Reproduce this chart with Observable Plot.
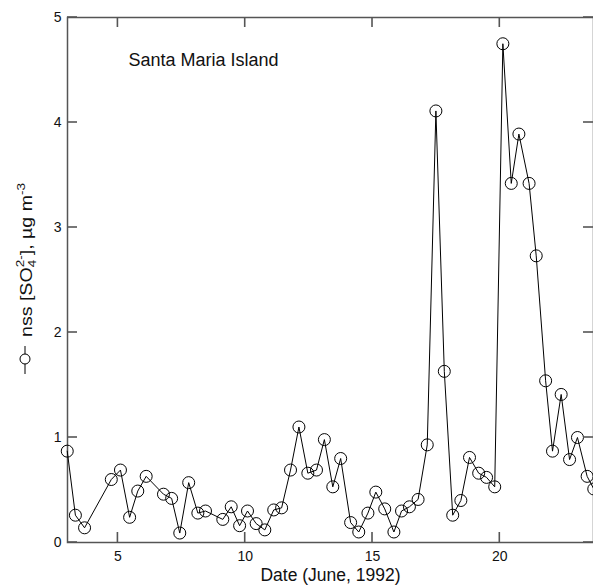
<!DOCTYPE html>
<html><head><meta charset="utf-8">
<script src="https://cdn.jsdelivr.net/npm/d3@7"></script>
<script src="https://cdn.jsdelivr.net/npm/@observablehq/plot@0.6"></script>
<style>
body{margin:0;background:#fff;}
#chart svg{font-family:"Liberation Sans", Arial, Helvetica, sans-serif;}
</style>
</head><body><div id="chart"></div>
<script>
const days = [3.01,3.33,3.69,4.74,5.10,5.46,5.78,6.11,6.79,7.11,
  7.43,7.78,8.14,8.44,9.12,9.45,9.78,10.09,10.43,10.77,
  11.12,11.43,11.78,12.11,12.46,12.80,13.11,13.44,13.75,14.14,
  14.46,14.82,15.13,15.48,15.84,16.14,16.45,16.79,17.15,17.49,
  17.82,18.15,18.47,18.81,19.17,19.48,19.80,20.12,20.45,20.75,
  21.15,21.43,21.80,22.07,22.41,22.74,23.05,23.43,23.69];
const nss = [0.87,0.26,0.14,0.60,0.69,0.24,0.49,0.63,0.46,0.42,
  0.09,0.57,0.28,0.30,0.22,0.34,0.16,0.30,0.18,0.12,
  0.31,0.33,0.69,1.10,0.66,0.69,0.98,0.53,0.80,0.19,
  0.10,0.28,0.48,0.32,0.10,0.30,0.34,0.41,0.93,4.11,
  1.63,0.26,0.40,0.81,0.66,0.62,0.53,4.75,3.42,3.89,
  3.42,2.73,1.54,0.87,1.41,0.79,1.00,0.63,0.51];
const xTicks = [5, 10, 15, 20];
const yTicks = [0, 1, 2, 3, 4, 5];
const titleText = "Santa Maria Island";
const xLabel = "Date (June, 1992)";

const data = days.map((d, i) => ({day: d, nss: nss[i]}));
const axisColor = "#555";
const tickLen = 10;

const chart = Plot.plot({
  width: 593, height: 585,
  marginLeft: 67, marginRight: 0, marginTop: 17, marginBottom: 43,
  style: {fontFamily: '"Liberation Sans", Arial, sans-serif', fontSize: "14px", background: "white", overflow: "visible"},
  x: {domain: [3.02, 23.68]},
  y: {domain: [0, 5]},
  marks: [
    Plot.frame({stroke: axisColor, strokeWidth: 1.5}),
    Plot.axisX({anchor: "bottom", ticks: xTicks, tickSize: 0, tickPadding: 9, label: null, fontSize: 14, fill: "#111"}),
    Plot.axisY({anchor: "left", ticks: yTicks, tickSize: 0, tickPadding: 6, tickFormat: d => String(d), label: null, fontSize: 14, fill: "#111"}),
    Plot.line(data, {x: "day", y: "nss", stroke: "black", strokeWidth: 1}),
    Plot.dot(data, {x: "day", y: "nss", r: 6, stroke: "black", strokeWidth: 1, fill: "none"}),
    Plot.text([titleText], {frameAnchor: "top-left", dx: 61, dy: 43, textAnchor: "start", lineAnchor: "middle", fontSize: 18, fill: "#111"}),
    Plot.text([xLabel], {frameAnchor: "bottom", dy: 33, lineAnchor: "middle", fontSize: 17.5, fill: "#111"})
  ]
});
document.getElementById("chart").appendChild(chart);

const svg = d3.select(chart);
// inward ticks on all four sides, positioned through Plot's own scales
const sx = chart.scale("x"), sy = chart.scale("y");
const xr = sx.range, yr = sy.range;
const xLeft = Math.min(xr[0], xr[1]), xRight = Math.max(xr[0], xr[1]);
const yBottom = Math.max(yr[0], yr[1]), yTop = Math.min(yr[0], yr[1]);
const tg = svg.append("g").attr("stroke", axisColor).attr("stroke-width", 1.6).attr("fill", "none");
xTicks.forEach(v => {
  const px = sx.apply(v);
  tg.append("path").attr("d", `M${px},${yBottom}V${yBottom - tickLen}`);
  tg.append("path").attr("d", `M${px},${yTop}V${yTop + tickLen}`);
});
yTicks.forEach(v => {
  const py = sy.apply(v);
  tg.append("path").attr("d", `M${xLeft},${py}H${xLeft + tickLen}`);
  tg.append("path").attr("d", `M${xRight},${py}H${xRight - tickLen}`);
});

// rotated y-axis label with sub/superscripts and legend symbol
const g = svg.append("g").attr("transform", "translate(32,337) rotate(-90)")
  .attr("font-size", 16).attr("fill", "#111");
const t = g.append("text").attr("x", 0).attr("y", 0).attr("text-anchor", "start")
  .attr("textLength", 154).attr("lengthAdjust", "spacingAndGlyphs");
t.append("tspan").text("nss [SO");
t.append("tspan").attr("font-size", 11).attr("dy", 4).text("4");
t.append("tspan").attr("font-size", 11).attr("dy", -12).attr("dx", -6).text("2-");
t.append("tspan").attr("dy", 8).text("], µg m");
t.append("tspan").attr("font-size", 11).attr("dy", -7).text("-3");
// legend symbol
svg.append("line").attr("x1", 25).attr("x2", 25).attr("y1", 346).attr("y2", 374)
  .attr("stroke", "black").attr("stroke-width", 1);
svg.append("circle").attr("cx", 25).attr("cy", 359).attr("r", 5)
  .attr("stroke", "black").attr("stroke-width", 1).attr("fill", "white");
</script>
</body></html>
